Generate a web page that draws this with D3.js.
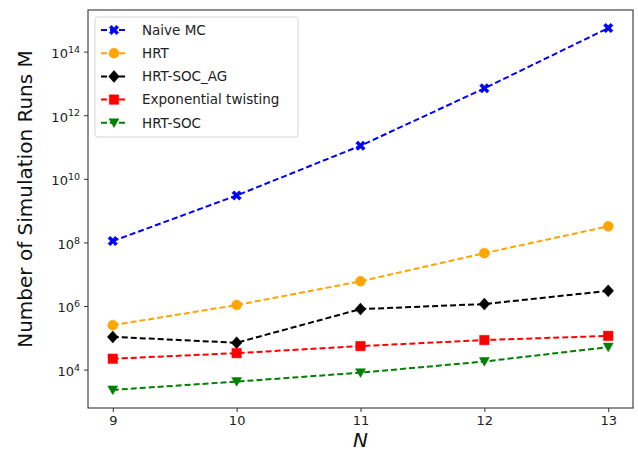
<!DOCTYPE html>
<html>
<head>
<meta charset="utf-8">
<script src="https://cdn.jsdelivr.net/npm/d3@7"></script>
<style>
  html, body { margin: 0; padding: 0; background: #fff; }
  svg { display: block; font-family: "DejaVu Sans", sans-serif; }
</style>
</head>
<body>
<svg id="chart" width="638" height="459"></svg>
<script>
// Problem size N on the x axis
const nValues = [9, 10, 11, 12, 13];

// Required number of simulation runs per method
const naiveMC   = [1.1e8, 3.0e9, 1.1e11, 7.0e12, 5.5e14];
const hrt       = [2.5e5, 1.07e6, 6.0e6, 4.6e7, 3.2e8];
const hrtSocAg  = [1.07e5, 7.0e4, 8.0e5, 1.15e6, 3.0e6];
const expTwist  = [2.2e4, 3.3e4, 5.5e4, 8.5e4, 1.15e5];
const hrtSoc    = [2.3e3, 4.2e3, 8.0e3, 1.8e4, 5.1e4];

const seriesNames = ["Naive MC", "HRT", "HRT-SOC_AG", "Exponential twisting", "HRT-SOC"];
const yTickExponents = [4, 6, 8, 10, 12, 14];

const seriesStyles = [
  { color: "#0000ff", marker: "X" },
  { color: "#ffa500", marker: "o" },
  { color: "#000000", marker: "D" },
  { color: "#ff0000", marker: "s" },
  { color: "#008000", marker: "v" }
];
const seriesValues = [naiveMC, hrt, hrtSocAg, expTwist, hrtSoc];
const series = seriesNames.map((name, i) => ({
  name, values: seriesValues[i], ...seriesStyles[i]
}));

const svg = d3.select("#chart");
const plot = { left: 88, top: 10, right: 633, bottom: 408 };

// x domain with 5% padding either side
const xMin = d3.min(nValues), xMax = d3.max(nValues);
const xPad = (xMax - xMin) * 0.05;
const x = d3.scaleLinear().domain([xMin - xPad, xMax + xPad]).range([plot.left, plot.right]);

// log y domain with 5% padding in decades
const allVals = seriesValues.flat();
const lMin = Math.log10(d3.min(allVals)), lMax = Math.log10(d3.max(allVals));
const lPad = (lMax - lMin) * 0.05;
const y = d3.scaleLog()
  .domain([Math.pow(10, lMin - lPad), Math.pow(10, lMax + lPad)])
  .range([plot.bottom, plot.top]);

const axisColor = "#333";

// x axis
const xAxis = d3.axisBottom(x).tickValues(nValues).tickFormat(d3.format("d")).tickSize(4).tickPadding(4);
const gx = svg.append("g").attr("transform", `translate(0,${plot.bottom})`).call(xAxis);
gx.select(".domain").remove();
gx.selectAll(".tick line").attr("stroke", axisColor).attr("stroke-width", 1);
gx.selectAll(".tick text").attr("fill", "#222").attr("font-size", 13)
  .attr("font-family", "DejaVu Sans, sans-serif");

// y axis with power-of-ten labels
const yAxis = d3.axisLeft(y).tickValues(yTickExponents.map(e => Math.pow(10, e)))
  .tickFormat("").tickSize(4);
const gy = svg.append("g").attr("transform", `translate(${plot.left},0)`).call(yAxis);
gy.select(".domain").remove();
gy.selectAll(".tick line").attr("stroke", axisColor).attr("stroke-width", 1);
gy.selectAll(".tick").each(function(d, i) {
  const t = d3.select(this).append("text")
    .attr("x", -8).attr("dy", "0.45em")
    .attr("text-anchor", "end").attr("fill", "#222")
    .attr("font-size", 13).attr("font-family", "DejaVu Sans, sans-serif");
  t.append("tspan").text("10");
  t.append("tspan").attr("font-size", 9.5).attr("dy", "-0.55em").text(yTickExponents[i]);
});

// frame
svg.append("rect")
  .attr("x", plot.left).attr("y", plot.top)
  .attr("width", plot.right - plot.left).attr("height", plot.bottom - plot.top)
  .attr("fill", "none").attr("stroke", axisColor).attr("stroke-width", 1.1);

// marker shapes
function markerPath(type, size) {
  const r = size / 2;
  switch (type) {
    case "o": return d3.symbol(d3.symbolCircle, Math.PI * r * r)();
    case "s": { const h = r * 0.95; return `M${-h},${-h}H${h}V${h}H${-h}Z`; }
    case "D": { const h = r * 1.2; return `M0,${-h}L${h*0.9},0L0,${h}L${-h*0.9},0Z`; }
    case "v": { const h = r; return `M${-h},${-h*0.8}L${h},${-h*0.8}L0,${h*0.95}Z`; }
    case "X": {
      const a = r * 0.95, w = r * 0.45;
      const pts = [];
      // thick filled X
      const base = [[w, 0], [a, a - w], [a - w, a], [0, w]];
      for (let k = 0; k < 4; k++) {
        const ang = k * Math.PI / 2;
        base.forEach(([px, py]) => {
          pts.push([px * Math.cos(ang) - py * Math.sin(ang), px * Math.sin(ang) + py * Math.cos(ang)]);
        });
      }
      return "M" + pts.map(p => p.join(",")).join("L") + "Z";
    }
  }
}

const line = d3.line().x((d, i) => x(nValues[i])).y(d => y(d));

const gSeries = svg.append("g");
series.forEach(s => {
  gSeries.append("path")
    .attr("d", line(s.values))
    .attr("fill", "none").attr("stroke", s.color)
    .attr("stroke-width", 2).attr("stroke-dasharray", "6,3");
  gSeries.selectAll(null).data(s.values).enter().append("path")
    .attr("transform", (d, i) => `translate(${x(nValues[i])},${y(d)})`)
    .attr("d", markerPath(s.marker, 10))
    .attr("fill", s.color).attr("stroke", s.color).attr("stroke-width", 0.5);
});

// legend
const leg = svg.append("g");
leg.append("rect")
  .attr("x", 95).attr("y", 17).attr("width", 203).attr("height", 120)
  .attr("rx", 2.5).attr("fill", "#fff").attr("fill-opacity", 0.8)
  .attr("stroke", "#d5d5d5").attr("stroke-width", 1);
series.forEach((s, i) => {
  const cy = 30 + i * 23.2;
  leg.append("line").attr("x1", 101).attr("x2", 127).attr("y1", cy).attr("y2", cy)
    .attr("stroke", s.color).attr("stroke-width", 2).attr("stroke-dasharray", "6,3");
  leg.append("path").attr("transform", `translate(114,${cy})`)
    .attr("d", markerPath(s.marker, 10)).attr("fill", s.color).attr("stroke", s.color).attr("stroke-width", 0.5);
  leg.append("text").attr("x", 142).attr("y", cy).attr("dy", "0.36em")
    .attr("font-size", 13.5).attr("fill", "#222").text(s.name);
});

// axis titles
svg.append("text")
  .attr("x", (plot.left + plot.right) / 2).attr("y", 447)
  .attr("text-anchor", "middle").attr("font-size", 20).attr("font-style", "italic")
  .attr("fill", "#111").text("N");
svg.append("text")
  .attr("transform", `translate(32,${(plot.top + plot.bottom) / 2 - 10}) rotate(-90)`)
  .attr("text-anchor", "middle").attr("font-size", 20)
  .attr("fill", "#111").text("Number of Simulation Runs M");
</script>
</body>
</html>
